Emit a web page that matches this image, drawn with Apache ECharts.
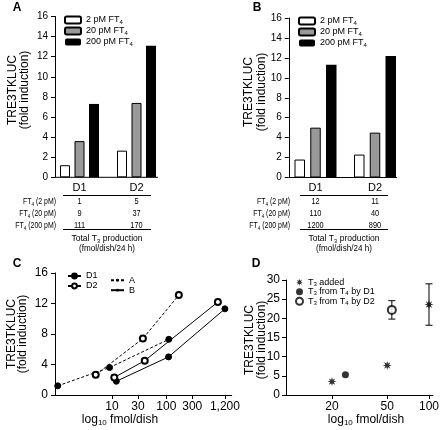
<!DOCTYPE html>
<html><head><meta charset="utf-8">
<script src="https://cdn.jsdelivr.net/npm/echarts@6/dist/echarts.min.js"></script>
<style>html,body{margin:0;padding:0;background:#fff}#c{width:442px;height:430px}</style>
</head><body><div id="c"></div>
<script>
// ---------- DATA ----------
const groups = ['D1', 'D2'];
const ft4Doses = ['2 pM', '20 pM', '200 pM'];
// Panel A: fold induction per FT4 dose
const aFold2 = [1.2, 2.65];
const aFold20 = [3.6, 7.4];
const aFold200 = [7.3, 13.1];
// Panel A: total T3 production (fmol/dish/24 h)
const aT3_2 = [1, 5];
const aT3_20 = [9, 37];
const aT3_200 = [111, 170];
// Panel B: fold induction
const bFold2 = [1.8, 2.3];
const bFold20 = [5.0, 4.5];
const bFold200 = [11.3, 12.2];
// Panel B: total T3 production
const bT3_2 = [12, 11];
const bT3_20 = [110, 40];
const bT3_200 = [1200, 890];
// Panel C tick labels (fmol/dish)
const cTicks = [10, 30, 100, 300, 1200];
// Panel D
const dTicks = [20, 50, 100];
const dT3Added = [[20, 3.5], [50, 7.7], [100, 23.6]];
const dT3AddedErr = [[100, 18.2, 29.0]];
const dByD1 = [[25, 5.3]];
const dByD2 = [[54, 22.2]];
const dByD2Err = [[54, 19.8, 24.6]];

// ---------- STYLE ----------
const FONT = '"Liberation Sans", Arial, Helvetica, sans-serif';
const BLACK = '#000';
const GRAY = '#999';
function rich(fs, sfs, lh) {
  return {
    n: { fontSize: fs, fontFamily: FONT, color: BLACK, lineHeight: lh },
    s: { fontSize: sfs, fontFamily: FONT, color: BLACK, verticalAlign: 'bottom', lineHeight: Math.round(sfs) }
  };
}
function sub(a, s, b) { return '{n|' + a + '}{s|' + s + '}' + (b ? '{n|' + b + '}' : ''); }

function starPath() {
  let p = '';
  for (let i = 0; i < 16; i++) {
    const r = i % 2 ? 0.45 : 1;
    const a = Math.PI * i / 8;
    p += (i ? 'L' : 'M') + (50 + 50 * r * Math.sin(a)).toFixed(1) + ' ' + (50 - 50 * r * Math.cos(a)).toFixed(1) + ' ';
  }
  return 'path://' + p + 'Z';
}
const STAR = starPath();

const chart = echarts.init(document.getElementById('c'));

const barNames = ['p2', 'p20', 'p200'];
const barLegendText = { p2: sub('2 pM FT', '4'), p20: sub('20 pM FT', '4'), p200: sub('200 pM FT', '4') };
const barColors = ['#fff', GRAY, BLACK];

function barSeries(i, data, axis, bw, gap) {
  return {
    type: 'bar', name: barNames[i], data: data, xAxisIndex: axis, yAxisIndex: axis,
    barWidth: bw, barGap: gap, silent: true,
    itemStyle: { color: barColors[i], borderColor: BLACK, borderWidth: i === 2 ? 0 : 1 }
  };
}

function pts(xs, ys) { return xs.map((x, i) => [x, ys[i]]); }
function cLine(name, xs, ys, dashed, filled) {
  return {
    type: 'line', name: name, xAxisIndex: 2, yAxisIndex: 2, data: pts(xs, ys),
    symbol: filled ? 'circle' : 'emptyCircle', symbolSize: 6, showSymbol: true, silent: true,
    lineStyle: { color: BLACK, width: 1, type: dashed ? [3, 2] : 'solid' },
    itemStyle: { color: BLACK, borderColor: BLACK, borderWidth: 1 }, z: 3
  };
}
function dummy(name, symbol, dashed) {
  return {
    type: 'line', name: name, xAxisIndex: 2, yAxisIndex: 2, data: [],
    symbol: symbol, symbolSize: 6,
    lineStyle: { color: BLACK, width: 1, type: dashed ? [3, 2] : 'solid' },
    itemStyle: { color: BLACK, borderColor: BLACK, borderWidth: 1 }
  };
}
function errBars(data) {
  return {
    type: 'custom', xAxisIndex: 3, yAxisIndex: 3, data: data, silent: true, z: 1,
    encode: { x: 0, y: [1, 2] },
    renderItem: function (params, api) {
      const x = api.value(0);
      const lo = api.coord([x, api.value(1)]);
      const hi = api.coord([x, api.value(2)]);
      const w = 3.5;
      const st = { stroke: BLACK, lineWidth: 1 };
      return {
        type: 'group', children: [
          { type: 'line', shape: { x1: lo[0], y1: lo[1], x2: hi[0], y2: hi[1] }, style: st },
          { type: 'line', shape: { x1: lo[0] - w, y1: lo[1], x2: lo[0] + w, y2: lo[1] }, style: st },
          { type: 'line', shape: { x1: hi[0] - w, y1: hi[1], x2: hi[0] + w, y2: hi[1] }, style: st }
        ]
      };
    }
  };
}

function catX(grid) {
  return {
    type: 'category', gridIndex: grid, data: groups, boundaryGap: true,
    axisLine: { show: false }, axisTick: { show: false },
    axisLabel: { fontSize: 11, fontFamily: FONT, color: BLACK, margin: 5 }
  };
}
function logX(grid, min, max, ticks) {
  return {
    type: 'log', logBase: 10, gridIndex: grid, min: min, max: max,
    axisLine: { show: true, lineStyle: { color: BLACK, width: 1 } },
    axisTick: { show: true, length: 4, customValues: ticks, lineStyle: { color: BLACK } },
    minorTick: { show: false }, splitLine: { show: false }, minorSplitLine: { show: false },
    axisLabel: { customValues: ticks, fontSize: 12, fontFamily: FONT, color: BLACK, margin: 6 }
  };
}
function valY(grid, max, interval, fs, margin, offset) {
  return {
    type: 'value', gridIndex: grid, min: 0, max: max, interval: interval, offset: offset || 0,
    axisLine: { show: true, lineStyle: { color: BLACK, width: 1 } },
    axisTick: { show: true, length: 4, lineStyle: { color: BLACK } },
    splitLine: { show: false },
    axisLabel: { fontSize: fs, fontFamily: FONT, color: BLACK, margin: margin }
  };
}
const legBase = { orient: 'vertical', itemGap: 0, padding: 0, selectedMode: false };

const option = {
  animation: false,
  backgroundColor: '#fff',
  textStyle: { fontFamily: FONT },
  grid: [
    { left: 51, top: 16.5, width: 114, height: 160.8 },
    { left: 285.75, top: 18, width: 119, height: 159.5 },
    { left: 55, top: 273, width: 176.7, height: 122 },
    { left: 286, top: 280, width: 147, height: 115 }
  ],
  xAxis: [catX(0), catX(1), logX(2, 0.89, 1600, cTicks), logX(3, 9.33, 106.7, dTicks)],
  yAxis: [valY(0, 16, 2, 10, 7, -4), valY(1, 16, 2, 10, 7, -3), valY(2, 16, 4, 12, 7), valY(3, 30, 5, 12, 6)],
  legend: [
    Object.assign({}, legBase, {
      data: barNames, left: 64, top: 14.5, itemWidth: 16, itemHeight: 7,
      formatter: n => barLegendText[n], textStyle: { fontSize: 9, lineHeight: 11, rich: rich(9, 6, 11) }
    }),
    Object.assign({}, legBase, {
      data: barNames, left: 298, top: 15.5, itemWidth: 16, itemHeight: 7,
      formatter: n => barLegendText[n], textStyle: { fontSize: 9, lineHeight: 11, rich: rich(9, 6, 11) }
    }),
    Object.assign({}, legBase, {
      data: ['D1', 'D2'], left: 67, top: 271, itemWidth: 13, itemHeight: 6,
      textStyle: { fontSize: 9, color: BLACK, lineHeight: 10 }
    }),
    Object.assign({}, legBase, {
      data: ['A', 'B'], left: 110, top: 275.2, itemWidth: 13, itemHeight: 1,
      textStyle: { fontSize: 9, color: BLACK, lineHeight: 10 }
    }),
    Object.assign({}, legBase, {
      data: ['t3add', 't3d1', 't3d2'], left: 295, top: 277.5, itemWidth: 7, itemHeight: 7,
      formatter: n => ({ t3add: sub('T', '3', ' added'), t3d1: sub('T', '3', ' from T') + '{s|4}{n| by D1}', t3d2: sub('T', '3', ' from T') + '{s|4}{n| by D2}' })[n],
      textStyle: { fontSize: 9, lineHeight: 9.5, rich: rich(9, 6, 9.5) }
    })
  ],
  series: [
    barSeries(0, aFold2, 0, 10, '45%'), barSeries(1, aFold20, 0, 10, '45%'), barSeries(2, aFold200, 0, 10, '45%'),
    barSeries(0, bFold2, 1, 10.5, '50%'), barSeries(1, bFold20, 1, 10.5, '50%'), barSeries(2, bFold200, 1, 10.5, '50%'),
    cLine('D1 A', [aT3_2[0], aT3_20[0], aT3_200[0]], [aFold2[0], aFold20[0], aFold200[0]], true, true),
    cLine('D2 A', [aT3_2[1], aT3_20[1], aT3_200[1]], [aFold2[1], aFold20[1], aFold200[1]], true, false),
    cLine('D1 B', [bT3_2[0], bT3_20[0], bT3_200[0]], [bFold2[0], bFold20[0], bFold200[0]], false, true),
    cLine('D2 B', [bT3_2[1], bT3_20[1], bT3_200[1]], [bFold2[1], bFold20[1], bFold200[1]], false, false),
    dummy('D1', 'circle', false), dummy('D2', 'emptyCircle', false), dummy('A', 'circle', true), dummy('B', 'circle', false),
    errBars(dT3AddedErr), errBars(dByD2Err),
    { type: 'scatter', name: 't3add', xAxisIndex: 3, yAxisIndex: 3, data: dT3Added, symbol: STAR, symbolSize: 9, itemStyle: { color: BLACK }, z: 3, silent: true },
    { type: 'scatter', name: 't3d1', xAxisIndex: 3, yAxisIndex: 3, data: dByD1, symbol: 'circle', symbolSize: 7, itemStyle: { color: BLACK }, z: 3, silent: true },
    { type: 'scatter', name: 't3d2', xAxisIndex: 3, yAxisIndex: 3, data: dByD2, symbol: 'emptyCircle', symbolSize: 8, itemStyle: { color: BLACK, borderWidth: 1 }, z: 3, silent: true }
  ]
};
chart.setOption(option);

// ---------- annotations (tables, titles, letters) ----------
const g = [];
function txt(x, y, text, opts) {
  opts = opts || {};
  const st = {
    text: text, x: 0, y: 0, fill: BLACK, align: opts.align || 'center', verticalAlign: 'middle',
    font: (opts.bold ? 'bold ' : '') + (opts.fs || 9) + 'px ' + FONT
  };
  if (opts.rich) st.rich = opts.rich;
  g.push({ type: 'text', x: x, y: y, rotation: opts.rot || 0, scaleX: opts.sx || 1, style: st, silent: true });
}
function hline(x1, x2, y) {
  g.push({ type: 'line', shape: { x1: x1, y1: y, x2: x2, y2: y }, style: { stroke: BLACK, lineWidth: 1 }, silent: true });
}

// baselines of bar panels
hline(55, 158, 177.3);
hline(289, 397, 177.5);

// tables
function table(axis, labelX, lineX1, lineX2, titleX, rows) {
  const cx = groups.map(gname => chart.convertToPixel({ xAxisIndex: axis }, gname));
  hline(lineX1, lineX2, 195.5);
  const ys = [202, 214, 225.5];
  rows.forEach((vals, r) => {
    txt(labelX, ys[r], sub('FT', '4', ' (' + ft4Doses[r] + ')'), { align: 'right', rich: rich(9, 6, 11), sx: 0.77 });
    vals.forEach((v, i) => txt(cx[i], ys[r], String(v), { fs: 9, sx: 0.82 }));
  });
  hline(lineX1, lineX2, 229.5);
  txt(titleX, 239, sub('Total T', '3', ' production'), { rich: rich(9, 6, 10), sx: 0.95 });
  txt(titleX, 248.5, '(fmol/dish/24 h)', { fs: 9, sx: 0.9 });
}
table(0, 56, 63, 151, 107, [aT3_2, aT3_20, aT3_200]);
table(1, 290, 300, 388, 344, [bT3_2, bT3_20, bT3_200]);

// panel letters
txt(17, 8, 'A', { bold: true, fs: 12 });
txt(257, 8, 'B', { bold: true, fs: 12 });
txt(17, 264, 'C', { bold: true, fs: 12 });
txt(256, 264, 'D', { bold: true, fs: 12 });

// y titles
const R = Math.PI / 2;
[[13, 25, 90], [249, 261.5, 92], [12, 23, 334], [250, 262, 340]].forEach(p => {
  txt(p[0], p[2], 'TRE3TKLUC', { fs: 12, rot: R });
  txt(p[1], p[2], '(fold induction)', { fs: 12, rot: R });
});
// x titles
txt(120, 420, sub('log', '10', ' fmol/dish'), { rich: rich(12, 8, 14) });
txt(366, 420, sub('log', '10', ' fmol/dish'), { rich: rich(12, 8, 14) });

chart.setOption({ graphic: g });
</script>
</body></html>
